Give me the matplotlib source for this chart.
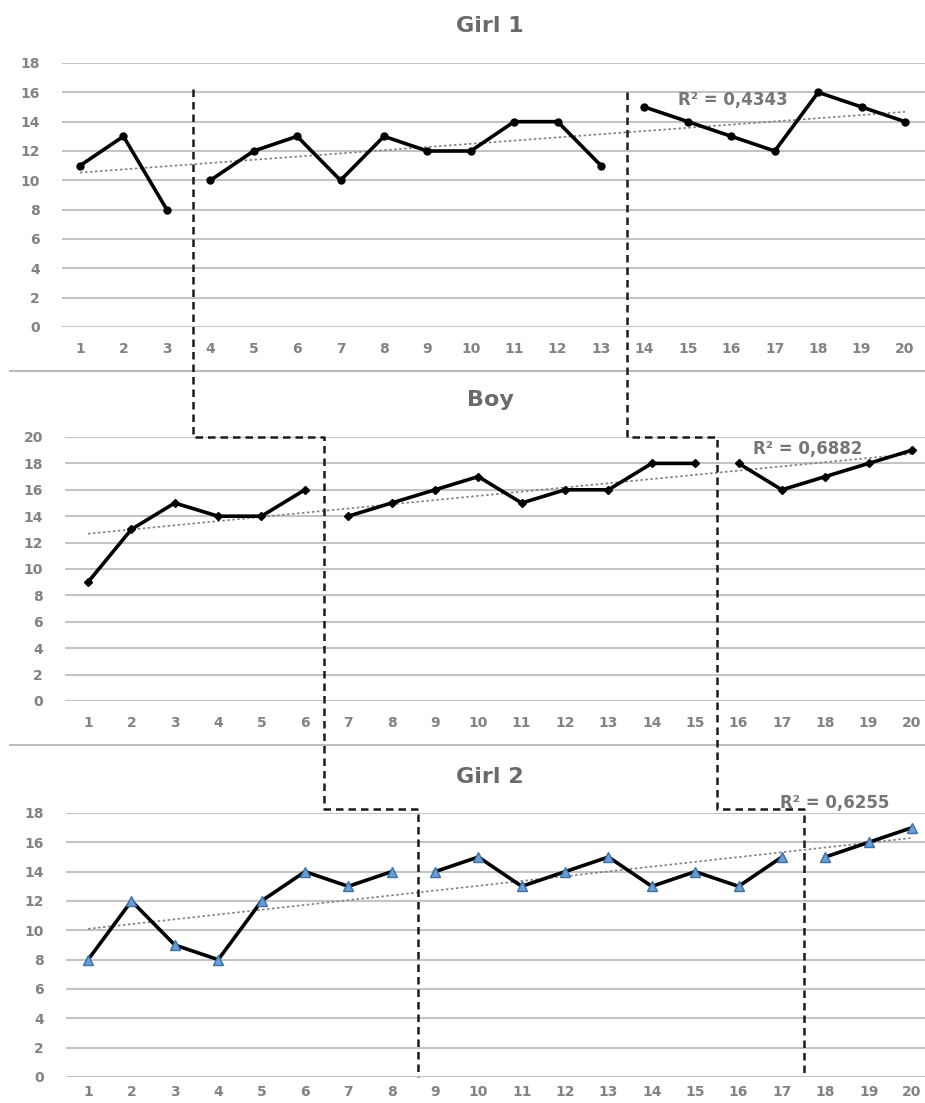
import matplotlib.pyplot as plt
from matplotlib.lines import Line2D
import numpy as np

# sessions 1..20 for every child
sessions = list(range(1, 21))

girl1_values = [11, 13, 8, 10, 12, 13, 10, 13, 12, 12, 14, 14, 11, 15, 14, 13, 12, 16, 15, 14]
boy_values = [9, 13, 15, 14, 14, 16, 14, 15, 16, 17, 15, 16, 16, 18, 18, 18, 16, 17, 18, 19]
girl2_values = [8, 12, 9, 8, 12, 14, 13, 14, 14, 15, 13, 14, 15, 13, 14, 13, 15, 15, 16, 17]

# last session of each phase (phase 1 / phase 2)
girl1_phase_end = [3, 13]
boy_phase_end = [6, 15]
girl2_phase_end = [8, 17]

# where the dashed phase lines are drawn
girl1_phase_x = [3.6, 13.6]
boy_phase_x = [6.45, 15.5]
girl2_phase_x = [8.6, 17.5]

r2_labels = ["R\u00b2 = 0,4343", "R\u00b2 = 0,6882", "R\u00b2 = 0,6255"]
titles = ["Girl 1", "Boy", "Girl 2"]

W, H = 925, 1103
fig = plt.figure(figsize=(W / 100, H / 100), dpi=100)

tick_gray = "#828282"
title_gray = "#6a6a6a"
grid_gray = "#c4c4c4"


def px_rect(left, top, bottom):
    return [left / W, 1 - bottom / H, (W - left) / W, (bottom - top) / H]


ax1 = fig.add_axes(px_rect(62, 63, 327))
ax2 = fig.add_axes(px_rect(65, 437, 701))
ax3 = fig.add_axes(px_rect(66, 813, 1077))

panels = [
    (ax1, girl1_values, girl1_phase_end, (0.585, 20.46), 18, "o", 5, "black", "black", 11),
    (ax2, boy_values, boy_phase_end, (0.47, 20.3), 20, "D", 4.5, "black", "black", 11),
    (ax3, girl2_values, girl2_phase_end, (0.49, 20.3), 18, "^", 7, "#6a9fd4", "#3d6fa8", 6),
]

for ax, vals, ends, xl, ymax, mk, ms, mfc, mec, xpad in panels:
    ax.set_xlim(*xl)
    ax.set_ylim(0, ymax)
    for s in ax.spines.values():
        s.set_visible(False)
    ax.set_yticks(range(0, ymax + 1, 2))
    ax.set_xticks(sessions)
    ax.grid(axis="y", color=grid_gray, linewidth=1.5, zorder=0)
    ax.tick_params(axis="both", length=0, colors=tick_gray, labelsize=10)
    ax.tick_params(axis="y", pad=16)
    ax.tick_params(axis="x", pad=xpad)
    for lab in ax.get_xticklabels() + ax.get_yticklabels():
        lab.set_fontweight("bold")

    # one line per phase
    x = np.array(sessions)
    y = np.array(vals)
    bounds = [0] + ends + [len(sessions)]
    for a, b in zip(bounds[:-1], bounds[1:]):
        ax.plot(x[a:b], y[a:b], color="black", linewidth=2.6, marker=mk,
                markersize=ms, markerfacecolor=mfc, markeredgecolor=mec,
                zorder=3, clip_on=False)

    # linear trend over all sessions
    k, m = np.polyfit(x, y, 1)
    ax.plot([1, 20], [k * 1 + m, k * 20 + m], color="#808080",
            linestyle=(0, (1.5, 1.5)), linewidth=1.2, zorder=2)

inv = fig.transFigure.inverted()


def fxy(axx, xv, axy, yv):
    px = axx.transData.transform((xv, 0))[0]
    py = axy.transData.transform((0, yv))[1]
    return inv.transform((px, py))


for i, top in enumerate([16.2, 16.0]):
    pts = [
        fxy(ax1, girl1_phase_x[i], ax1, top),
        fxy(ax1, girl1_phase_x[i], ax2, 20),
        fxy(ax2, boy_phase_x[i], ax2, 20),
        fxy(ax2, boy_phase_x[i], ax3, 18.3),
        fxy(ax3, girl2_phase_x[i], ax3, 18.3),
        fxy(ax3, girl2_phase_x[i], ax3, 0),
    ]
    pts = np.array(pts)
    fig.add_artist(Line2D(pts[:, 0], pts[:, 1], transform=fig.transFigure,
                          color="#1a1a1a", linewidth=1.8, linestyle=(0, (3, 2)),
                          zorder=5))

# borders between the three charts
for yp in [371, 745]:
    fig.add_artist(Line2D([10 / W, 1], [1 - yp / H] * 2, transform=fig.transFigure,
                          color="#bdbdbd", linewidth=1.5))

for t, yp in zip(titles, [26, 400, 777]):
    fig.text(490 / W, 1 - yp / H, t, ha="center", va="center",
             fontsize=16, fontweight="bold", color=title_gray)

for t, (xp, yp) in zip(r2_labels, [(733, 100), (808, 449), (835, 803)]):
    fig.text(xp / W, 1 - yp / H, t, ha="center", va="center",
             fontsize=12, fontweight="bold", color="#767676", zorder=6)

fig.savefig("out.png", dpi=100)
